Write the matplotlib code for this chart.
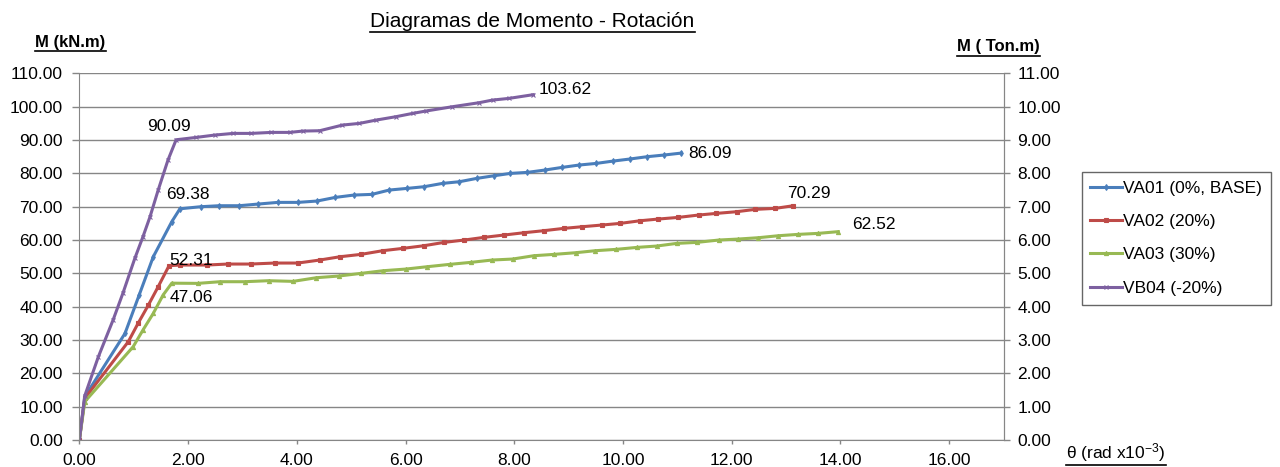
import matplotlib.pyplot as plt
from matplotlib.lines import Line2D
from matplotlib.ticker import FormatStrFormatter, MultipleLocator

plt.rcParams['font.family'] = ['Liberation Sans', 'DejaVu Sans']
plt.rcParams['mathtext.fontset'] = 'custom'
plt.rcParams['mathtext.rm'] = 'Liberation Sans'
plt.rcParams['mathtext.it'] = 'Liberation Sans'

# theta (rad x10^-3) vs moment (kN.m)
va01_x = [0, 0.10, 0.84, 1.10, 1.36, 1.70, 1.85, 2.23, 2.57, 2.94, 3.29, 3.65, 4.02, 4.37, 4.71,
          5.05, 5.38, 5.70, 6.03, 6.34, 6.68, 6.99, 7.31, 7.63, 7.93, 8.24, 8.56, 8.88, 9.19,
          9.51, 9.82, 10.12, 10.44, 10.75, 11.07]
va01_y = [0, 13.0, 32.0, 43.5, 55.0, 65.5, 69.38, 70.0, 70.3, 70.3, 70.8, 71.3, 71.3, 71.7, 72.8,
          73.5, 73.7, 75.0, 75.5, 76.0, 77.0, 77.5, 78.5, 79.3, 80.0, 80.3, 81.0, 81.8, 82.5,
          83.0, 83.7, 84.3, 85.0, 85.5, 86.09]

va02_x = [0, 0.10, 0.90, 1.08, 1.27, 1.45, 1.65, 1.85, 2.34, 2.73, 3.15, 3.59, 4.02, 4.42, 4.80,
          5.18, 5.58, 5.95, 6.34, 6.71, 7.08, 7.44, 7.81, 8.18, 8.54, 8.91, 9.25, 9.61, 9.95,
          10.32, 10.65, 11.02, 11.39, 11.72, 12.09, 12.43, 12.80, 13.13]
va02_y = [0, 12.5, 29.5, 35.0, 40.5, 46.0, 52.31, 52.5, 52.5, 52.8, 52.8, 53.1, 53.1, 54.0, 55.0,
          55.7, 56.8, 57.5, 58.3, 59.3, 60.0, 60.8, 61.5, 62.2, 62.8, 63.5, 64.0, 64.5, 65.0,
          65.8, 66.3, 66.8, 67.5, 68.0, 68.5, 69.2, 69.5, 70.29]

va03_x = [0, 0.10, 0.99, 1.17, 1.36, 1.54, 1.70, 2.18, 2.59, 3.04, 3.48, 3.93, 4.36, 4.77, 5.18,
          5.59, 6.01, 6.40, 6.81, 7.20, 7.59, 7.97, 8.36, 8.73, 9.13, 9.49, 9.87, 10.26, 10.62,
          10.99, 11.36, 11.76, 12.12, 12.49, 12.86, 13.22, 13.59, 13.96]
va03_y = [0, 11.5, 28.0, 33.0, 38.0, 43.5, 47.06, 47.0, 47.5, 47.5, 47.8, 47.6, 48.7, 49.2, 50.0,
          50.8, 51.3, 52.0, 52.7, 53.3, 54.0, 54.3, 55.3, 55.7, 56.2, 56.8, 57.2, 57.8, 58.2,
          59.0, 59.3, 60.0, 60.3, 60.7, 61.3, 61.7, 62.0, 62.52]

vb04_x = [0, 0.10, 0.35, 0.62, 0.80, 1.02, 1.17, 1.30, 1.45, 1.63, 1.78, 2.15, 2.49, 2.83, 3.16,
          3.53, 3.87, 4.11, 4.42, 4.84, 5.15, 5.46, 5.82, 6.13, 6.37, 6.86, 7.35, 7.60, 7.90, 8.35]
vb04_y = [0, 13.3, 25.0, 36.0, 44.0, 54.5, 61.0, 67.0, 75.0, 84.0, 90.09, 90.8, 91.5, 92.0, 92.0,
          92.3, 92.3, 92.7, 92.8, 94.5, 95.0, 96.0, 97.0, 98.0, 98.7, 100.0, 101.2, 102.0, 102.5, 103.62]

series = [
    ('VA01 (0%, BASE)', va01_x, va01_y, '#4A7EBB', 'd'),
    ('VA02 (20%)', va02_x, va02_y, '#BE4B48', 's'),
    ('VA03 (30%)', va03_x, va03_y, '#98B954', '^'),
    ('VB04 (-20%)', vb04_x, vb04_y, '#7D60A0', 'x'),
]

# value labels: (series index, point index, offset in points)
value_labels = [
    (0, 6, (6, 10)), (0, -1, (21, 0)),
    (1, 6, (16, 4)), (1, -1, (11, 9)),
    (2, 6, (14, -10)), (2, -1, (26, 5)),
    (3, 10, (-5, 9.5)), (3, -1, (23, 4)),
]

grey = '#868686'
fs = 12.5

fig = plt.figure(figsize=(12.8, 4.67), dpi=100)
ax = fig.add_axes([0.062, 0.0578, 0.722, 0.785])

for name, xs, ys, color, mk in series:
    ax.plot(xs, ys, color=color, lw=2.2, marker=mk, ms=3, mew=0.8, label=name)

for si, pi, off in value_labels:
    xs, ys = series[si][1], series[si][2]
    ax.annotate(f'{ys[pi]:.2f}', (xs[pi], ys[pi]), xytext=off, textcoords='offset points',
                ha='center', va='center', fontsize=fs)

ax.set_xlim(0, 17)
ax.set_ylim(0, 110)
ax.xaxis.set_major_locator(MultipleLocator(2))
ax.yaxis.set_major_locator(MultipleLocator(10))
ax.xaxis.set_major_formatter(FormatStrFormatter('%.2f'))
ax.yaxis.set_major_formatter(FormatStrFormatter('%.2f'))
ax.grid(axis='y', color=grey, lw=1)
ax.set_axisbelow(True)
ax.tick_params(axis='y', length=5, width=1, color=grey, labelsize=fs, pad=7)
ax.tick_params(axis='x', length=3, width=1, color=grey, labelsize=fs, pad=6)
for side in ['left', 'bottom', 'right']:
    ax.spines[side].set_color(grey)
ax.spines['top'].set_visible(False)

ax2 = ax.twinx()
ax2.set_ylim(0, 11)
ax2.yaxis.set_major_locator(MultipleLocator(1))
ax2.yaxis.set_major_formatter(FormatStrFormatter('%.2f'))
ax2.tick_params(axis='y', length=4, width=1, color=grey, labelsize=fs, pad=6)
for side in ['left', 'bottom', 'top']:
    ax2.spines[side].set_visible(False)
ax2.spines['right'].set_color(grey)

leg = ax.legend(loc='upper left', bbox_to_anchor=(0.845, 0.632), bbox_transform=fig.transFigure,
                fontsize=fs, frameon=True, fancybox=False, edgecolor='#404040',
                handlelength=1.8, handletextpad=0.1, labelspacing=1.05, borderpad=0.5,
                borderaxespad=0)
leg.get_frame().set_linewidth(1)

texts = [
    fig.text(0.416, 0.955, 'Diagramas de Momento - Rotación', ha='center', va='center', fontsize=15),
    fig.text(0.055, 0.91, 'M (kN.m)', ha='center', va='center', fontsize=12, fontweight='bold'),
    fig.text(0.78, 0.90, 'M ( Ton.m)', ha='center', va='center', fontsize=12, fontweight='bold'),
    fig.text(0.872, 0.032, r'θ (rad x10$^{-3}$)', ha='center', va='center', fontsize=12.5),
]

# underline the titles
fig.canvas.draw()
inv = fig.transFigure.inverted()
for t in texts:
    bb = t.get_window_extent().transformed(inv)
    fig.add_artist(Line2D([bb.x0, bb.x1], [bb.y0 - 0.003, bb.y0 - 0.003],
                          transform=fig.transFigure, color='black', lw=1.2))

fig.savefig('out.png', dpi=100)
